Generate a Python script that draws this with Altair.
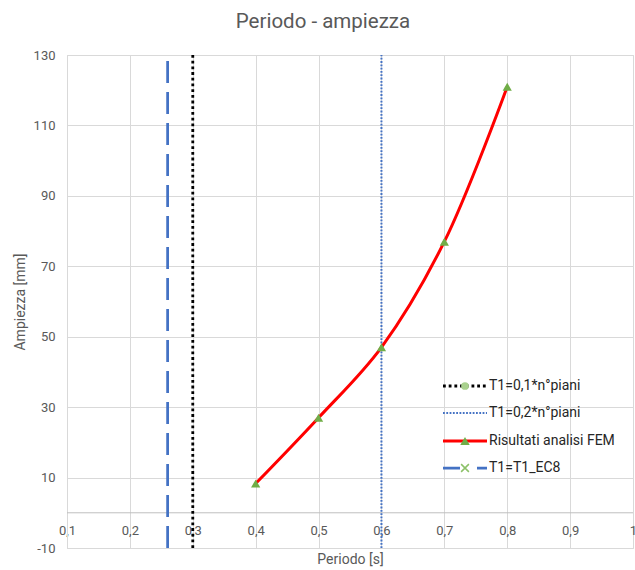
import altair as alt
import pandas as pd

# ---- data ----
periodo = [0.4, 0.5, 0.6, 0.7, 0.8]
ampiezza = [8.3, 27.0, 47.0, 77.0, 121.0]

vline_names = ["T1=0,1*n°piani", "T1=0,2*n°piani", "T1=T1_EC8"]
vline_x = [0.3, 0.6, 0.26]
vline_ymin = [-10, -10, -10]
vline_ymax = [130, 130, 130]

x_ticks = [0.1, 0.2, 0.3, 0.4, 0.5, 0.6, 0.7, 0.8, 0.9, 1.0]
y_ticks = [-10, 10, 30, 50, 70, 90, 110, 130]
cross_y = [0]

legend_labels = ["T1=0,1*n°piani", "T1=0,2*n°piani", "Risultati analisi FEM", "T1=T1_EC8"]

FONT = "Roboto"
GRAY = "#595959"
GRID = "#d9d9d9"
BLUE = "#4472C4"
GREEN = "#70AD47"

fem = pd.DataFrame({"Periodo": periodo, "Ampiezza": ampiezza})
vl = pd.DataFrame({"name": vline_names, "x": vline_x, "y0": vline_ymin, "y1": vline_ymax})

xscale = alt.Scale(domain=[0.1, 1.0], nice=False, zero=False)
yscale = alt.Scale(domain=[-10, 130], nice=False, zero=False)

xaxis = alt.Axis(
    values=x_ticks, grid=True, gridColor=GRID, gridWidth=1, domain=False,
    ticks=False, tickSize=0, labelPadding=-24, labelFlush=False, labelOverlap=False,
    labelExpr="replace(format(datum.value, '.1~f'), '.', ',')",
    labelFont=FONT, labelFontSize=13, labelColor=GRAY,
    title="Periodo [s]", titleFont=FONT, titleFontSize=14, titleColor=GRAY,
    titleFontWeight="normal", titleY=4, titleBaseline="top",
)
yaxis = alt.Axis(
    values=y_ticks, grid=True, gridColor=GRID, gridWidth=1, domain=True,
    domainColor=GRID, ticks=False, tickSize=0, labelPadding=12, labelFlush=False,
    labelOverlap=False, labelExpr="'' + datum.value",
    labelFont=FONT, labelFontSize=13, labelColor=GRAY,
    title="Ampiezza [mm]", titleFont=FONT, titleFontSize=14, titleColor=GRAY,
    titleFontWeight="normal", titleX=-47, titleAngle=-90, titleBaseline="middle",
)

base_axes = alt.Chart(fem).mark_point(opacity=0).encode(
    x=alt.X("Periodo:Q", scale=xscale, axis=xaxis),
    y=alt.Y("Ampiezza:Q", scale=yscale, axis=yaxis),
)

zero_rule = alt.Chart(pd.DataFrame({"y": cross_y})).mark_rule(
    color="#bfbfbf", strokeWidth=1
).encode(y=alt.Y("y:Q", scale=yscale))

def vline(name, color, width, dash):
    return alt.Chart(vl).transform_filter(alt.datum.name == name).mark_rule(
        color=color, strokeWidth=width, strokeDash=dash
    ).encode(
        x=alt.X("x:Q", scale=xscale),
        y=alt.Y("y0:Q", scale=yscale),
        y2="y1:Q",
    )

v_ec8 = vline("T1=T1_EC8", BLUE, 2.75, [22, 9])
v_01 = vline("T1=0,1*n°piani", "#000000", 2.8, [2.8, 2.9])
v_02 = vline("T1=0,2*n°piani", BLUE, 2, [1.8, 1.5])

curve = alt.Chart(fem).mark_line(
    color="#FF0000", strokeWidth=3, interpolate="catmull-rom"
).encode(
    x=alt.X("Periodo:Q", scale=xscale),
    y=alt.Y("Ampiezza:Q", scale=yscale),
)
pts = alt.Chart(fem).mark_point(
    shape="triangle-up", filled=True, color=GREEN, size=85, opacity=1
).encode(
    x=alt.X("Periodo:Q", scale=xscale),
    y=alt.Y("Ampiezza:Q", scale=yscale),
)

# ---- manual legend (pixel positions inside plot area) ----
one = pd.DataFrame({"k": [0]})
LX0, LX1, LXM, LTX = 376, 420, 398, 422
rows = [331, 358, 386, 413]

def leg_line(y, color, width, dash):
    return alt.Chart(one).mark_rule(color=color, strokeWidth=width, strokeDash=dash).encode(
        x=alt.value(LX0), x2=alt.value(LX1), y=alt.value(y)
    )

def leg_text(y, label):
    return alt.Chart(one).mark_text(
        text=label, align="left", baseline="middle", font=FONT, fontSize=14, color="#262626"
    ).encode(x=alt.value(LTX), y=alt.value(y))

legend_layers = [
    leg_line(rows[0], "#000000", 2.8, [2.8, 2.9]),
    alt.Chart(one).mark_point(shape="circle", filled=True, color="#A9D18E", size=60, opacity=1).encode(
        x=alt.value(LXM), y=alt.value(rows[0])),
    leg_text(rows[0], legend_labels[0]),
    leg_line(rows[1], BLUE, 2, [1.8, 1.5]),
    leg_text(rows[1], legend_labels[1]),
    leg_line(rows[2], "#FF0000", 3, [1, 0]),
    alt.Chart(one).mark_point(shape="triangle-up", filled=True, color=GREEN, size=90, opacity=1).encode(
        x=alt.value(LXM), y=alt.value(rows[2])),
    leg_text(rows[2], legend_labels[2]),
    leg_line(rows[3], BLUE, 2.75, [17, 17]),
    alt.Chart(one).mark_point(shape="M-1,-1L1,1M-1,1L1,-1", filled=False, color="#8CC168",
                              size=60, strokeWidth=1.5, opacity=1).encode(
        x=alt.value(LXM), y=alt.value(rows[3])),
    leg_text(rows[3], legend_labels[3]),
]

chart = alt.layer(
    base_axes, zero_rule, v_ec8, v_01, v_02, curve, pts, *legend_layers
).properties(
    width=566, height=493,
    title=alt.TitleParams("Periodo - ampiezza", font=FONT, fontSize=20.5, color=GRAY,
                          fontWeight="normal", anchor="middle", dx=-27, offset=17),
    autosize=alt.AutoSizeParams(type="none"),
    padding={"left": 67, "top": 55, "right": 2, "bottom": 22},
).configure_view(stroke=None).configure(background="white")

chart.save("out.html", embed_options={"renderer": "svg", "actions": False})
